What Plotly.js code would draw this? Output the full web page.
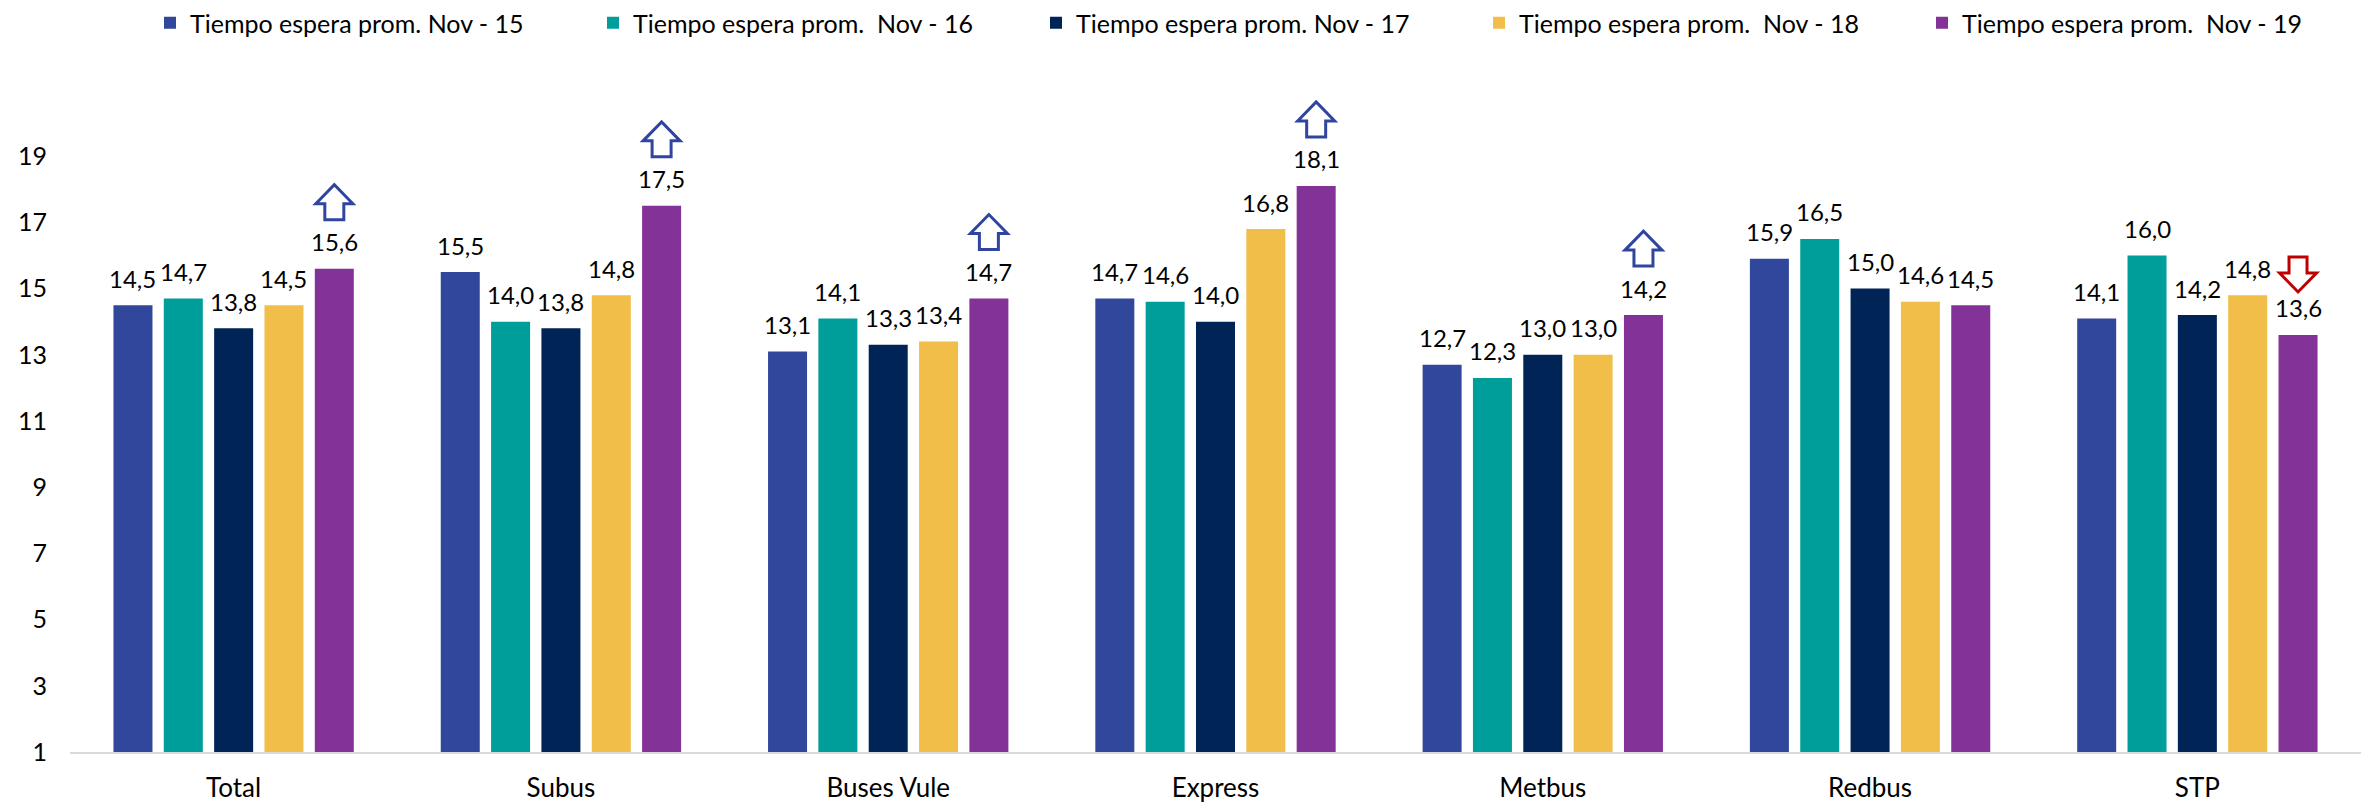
<!DOCTYPE html>
<html>
<head>
<meta charset="utf-8">
<script src="https://cdn.plot.ly/plotly-3.0.1.min.js"></script>
<style>html,body{margin:0;padding:0;background:#fff;}#chart{width:2369px;height:805px;}</style>
</head>
<body>
<div id="chart"></div>
<script>
const categories = ['Total', 'Subus', 'Buses Vule', 'Express', 'Metbus', 'Redbus', 'STP'];
const seriesNames = [
  'Tiempo espera prom. Nov - 15',
  'Tiempo espera prom.\u00a0 Nov - 16',
  'Tiempo espera prom. Nov - 17',
  'Tiempo espera prom.\u00a0 Nov - 18',
  'Tiempo espera prom.\u00a0 Nov - 19'
];
const nov15 = [14.5, 15.5, 13.1, 14.7, 12.7, 15.9, 14.1];
const nov16 = [14.7, 14.0, 14.1, 14.6, 12.3, 16.5, 16.0];
const nov17 = [13.8, 13.8, 13.3, 14.0, 13.0, 15.0, 14.2];
const nov18 = [14.5, 14.8, 13.4, 16.8, 13.0, 14.6, 14.8];
const nov19 = [15.6, 17.5, 14.7, 18.1, 14.2, 14.5, 13.6];
const trend19 = ['up', 'up', 'up', 'up', 'up', 'none', 'down'];
const yTickVals = [1, 3, 5, 7, 9, 11, 13, 15, 17, 19];
const colors = ['#31479B', '#009E9B', '#012456', '#F1BE4A', '#833397'];

const series = [nov15, nov16, nov17, nov18, nov19];
const FONT = 'Lato, "Open Sans", sans-serif';
const bargap = 0.231;
const slot = (1 - bargap) / series.length;

const traces = series.map((vals, j) => ({
  type: 'bar',
  name: seriesNames[j],
  x: categories,
  y: vals,
  marker: { color: colors[j], line: { width: 0 } },
  hoverinfo: 'y'
}));

const annotations = [];
series.forEach((vals, j) => {
  vals.forEach((v, i) => {
    annotations.push({
      x: i + (j - (series.length - 1) / 2) * slot,
      y: v,
      xref: 'x', yref: 'y',
      text: v.toFixed(1).replace('.', ','),
      showarrow: false,
      yshift: 27,
      font: { family: FONT, size: 24, color: '#000' }
    });
  });
});

const upPath = 'M-9.5,49 L9.5,49 L9.5,65 L18.5,65 L0,84 L-18.5,65 L-9.5,65 Z';
const downPath = 'M-9,78 L9,78 L9,62 L18.5,62 L0,43 L-18.5,62 L-9,62 Z';
const shapes = [];
trend19.forEach((t, i) => {
  if (t === 'none') return;
  shapes.push({
    type: 'path',
    xref: 'x', yref: 'y',
    xsizemode: 'pixel', ysizemode: 'pixel',
    xanchor: i + 2 * slot,
    yanchor: nov19[i],
    path: t === 'up' ? upPath : downPath,
    line: { color: t === 'up' ? '#2F45A0' : '#C00000', width: 3 },
    fillcolor: 'rgba(255,255,255,0)'
  });
});

const layout = {
  width: 2369,
  height: 805,
  margin: { l: 70, r: 8, t: 90, b: 53 },
  paper_bgcolor: '#fff',
  plot_bgcolor: '#fff',
  barmode: 'group',
  bargap: bargap,
  bargroupgap: 0.225,
  separators: ',.',
  font: { family: FONT, size: 24, color: '#000' },
  showlegend: true,
  legend: {
    orientation: 'h',
    xref: 'container', yref: 'container',
    x: 150 / 2369, xanchor: 'left',
    y: 1, yanchor: 'top',
    entrywidth: 398,
    entrywidthmode: 'pixels',
    font: { family: FONT, size: 25, color: '#000' },
    traceorder: 'normal'
  },
  xaxis: {
    type: 'category',
    showline: true,
    linecolor: '#D9D9D9',
    linewidth: 2,
    showgrid: false,
    zeroline: false,
    ticks: '',
    ticklabelstandoff: 12,
    tickfont: { family: FONT, size: 26, color: '#000' },
    fixedrange: true
  },
  yaxis: {
    range: [1, 21],
    tickvals: yTickVals,
    ticktext: yTickVals.map(String),
    showline: false,
    showgrid: false,
    zeroline: false,
    ticks: '',
    ticklabelstandoff: 22,
    tickfont: { family: FONT, size: 25, color: '#000' },
    fixedrange: true
  },
  annotations: annotations,
  shapes: shapes
};

Plotly.newPlot('chart', traces, layout, { displayModeBar: false, staticPlot: true });
</script>
</body>
</html>
